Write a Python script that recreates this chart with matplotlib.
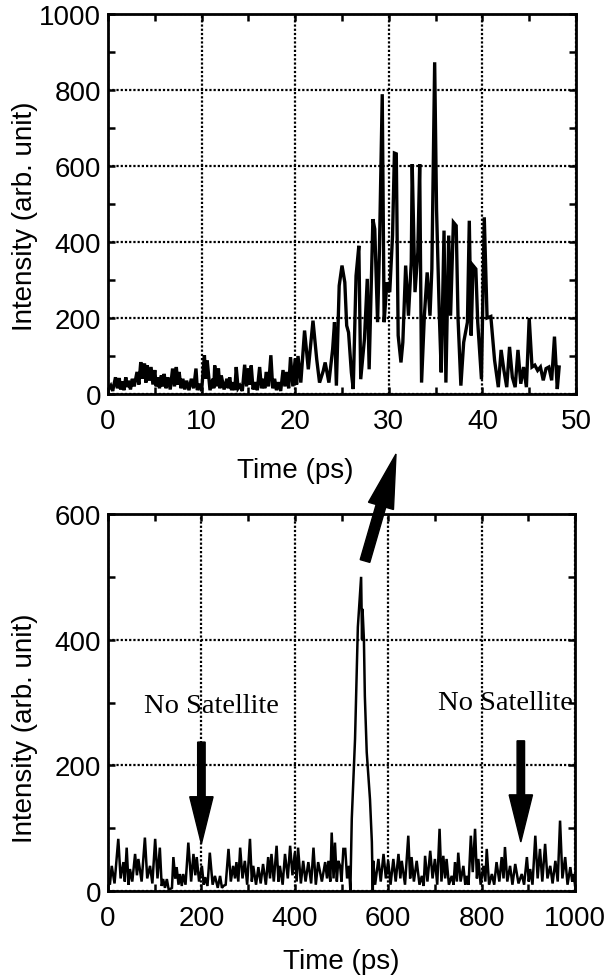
import matplotlib
matplotlib.use("Agg")
import matplotlib.pyplot as plt
from matplotlib.ticker import MultipleLocator
from matplotlib.patches import FancyArrow
from matplotlib.transforms import IdentityTransform

plt.rcParams['font.family'] = ['Liberation Sans', 'DejaVu Sans']

# ---------------- data: top panel (zoom, 0-50 ps) ----------------
top_time = [
    0.0, 0.3, 0.5, 0.8, 1.0, 1.2, 1.35, 1.5, 1.7, 1.9,
    2.05, 2.2, 2.4, 2.6, 2.8, 3.1, 3.3, 3.5, 3.7, 3.9,
    4.05, 4.2, 4.4, 4.6, 4.8, 5.0, 5.15, 5.3, 5.5, 5.7,
    5.85, 6.0, 6.2, 6.4, 6.65, 6.9, 7.1, 7.3, 7.45, 7.6,
    7.8, 8.0, 8.2, 8.4, 8.65, 8.9, 9.15, 9.4, 9.55, 9.7,
    10.0, 10.3, 10.45, 10.6, 10.9, 11.2, 11.3, 11.4, 11.6, 11.8,
    11.95, 12.1, 12.4, 12.7, 12.85, 13.0, 13.2, 13.4, 13.55, 13.7,
    13.9, 14.1, 14.35, 14.6, 14.8, 15.0, 15.15, 15.3, 15.5, 15.7,
    15.95, 16.2, 16.4, 16.6, 16.75, 16.9, 17.15, 17.4, 17.6, 17.8,
    18.0, 18.2, 18.45, 18.7, 18.9, 19.1, 19.3, 19.5, 19.75, 20.0,
    20.15, 20.3, 20.6, 21.0, 21.4, 21.9, 22.3, 22.6, 23.0, 23.2,
    23.6, 24.0, 24.2, 24.4, 24.7, 25.0, 25.3, 25.5, 25.7, 26.0,
    26.2, 26.5, 26.8, 27.0, 27.4, 27.7, 27.9, 28.3, 28.5, 28.8,
    29.0, 29.3, 29.5, 29.8, 30.1, 30.4, 30.6, 30.8, 31.0, 31.3,
    31.5, 31.8, 32.1, 32.4, 32.5, 32.8, 33.1, 33.3, 33.5, 33.8,
    34.1, 34.4, 34.6, 34.9, 35.1, 35.4, 35.6, 35.9, 36.1, 36.4,
    36.6, 36.9, 37.2, 37.4, 37.7, 38.0, 38.4, 38.6, 38.8, 39.0,
    39.3, 39.5, 39.9, 40.2, 40.5, 40.9, 41.3, 41.7, 42.0, 42.3,
    42.6, 42.9, 43.2, 43.5, 43.8, 44.1, 44.4, 44.7, 45.0, 45.3,
    45.6, 45.9, 46.2, 46.5, 46.8, 47.1, 47.4, 47.7, 48.0, 48.2,
]
top_intensity = [
    10, 22, 8, 44, 15, 42, 12, 33, 10, 44,
    18, 35, 12, 40, 20, 58, 25, 84, 40, 80,
    30, 75, 35, 71, 25, 63, 20, 44, 15, 49,
    20, 53, 15, 44, 12, 67, 20, 71, 25, 58,
    15, 40, 12, 35, 10, 40, 15, 67, 10, 27,
    8, 102, 40, 88, 10, 40, 15, 75, 20, 67,
    15, 49, 12, 40, 15, 44, 10, 31, 10, 71,
    15, 22, 8, 77, 20, 67, 25, 75, 12, 31,
    10, 71, 15, 40, 15, 58, 20, 102, 15, 40,
    10, 31, 8, 63, 20, 58, 15, 97, 20, 93,
    25, 100, 30, 167, 65, 193, 91, 30, 61, 83,
    30, 118, 189, 22, 285, 338, 294, 180, 162, 57,
    13, 311, 390, 39, 145, 303, 65, 460, 434, 189,
    382, 789, 189, 294, 268, 417, 634, 632, 154, 83,
    136, 338, 206, 347, 605, 268, 373, 605, 30, 206,
    320, 206, 329, 873, 487, 206, 57, 430, 30, 417,
    206, 452, 443, 197, 22, 136, 189, 456, 154, 338,
    329, 189, 39, 465, 200, 204, 89, 18, 116, 62,
    18, 124, 44, 18, 116, 27, 71, 18, 200, 71,
    76, 62, 71, 36, 67, 71, 36, 151, 13, 71,
]

# ---------------- data: bottom panel (0-1000 ps) ----------------
bot_time = [
    0, 4, 8, 14, 22, 27, 33, 36, 40, 44,
    47, 52, 58, 62, 65, 72, 79, 84, 90, 95,
    101, 106, 111, 115, 118, 122, 126, 130, 133, 137,
    140, 144, 147, 151, 154, 158, 161, 166, 172, 178,
    183, 187, 190, 195, 201, 205, 208, 213, 218, 224,
    229, 235, 240, 244, 247, 252, 258, 263, 268, 272,
    275, 279, 283, 288, 293, 298, 304, 308, 311, 317,
    322, 327, 332, 338, 343, 347, 350, 355, 361, 365,
    368, 374, 379, 385, 390, 395, 400, 404, 407, 413,
    418, 423, 429, 435, 440, 445, 450, 458, 465, 469,
    472, 476, 479, 483, 486, 490, 493, 497, 500, 504,
    508, 512, 516, 519, 522, 529, 535, 542, 544, 545,
    548, 550, 554, 561, 565, 567, 568, 572, 579, 584,
    590, 595, 600, 605, 611, 616, 622, 626, 629, 636,
    643, 647, 650, 655, 661, 667, 672, 676, 679, 684,
    690, 695, 700, 705, 710, 714, 718, 722, 725, 730,
    736, 740, 743, 747, 750, 755, 761, 765, 768, 772,
    777, 781, 786, 790, 793, 798, 804, 808, 811, 816,
    822, 827, 832, 838, 843, 847, 850, 855, 861, 866,
    872, 879, 886, 891, 897, 901, 904, 909, 915, 920,
    925, 930, 936, 941, 947, 952, 958, 963, 968, 973,
    979, 984, 990, 994, 997, 1000,
]
bot_intensity = [
    20, 10, 40, 12, 83, 20, 46, 15, 69, 10,
    35, 15, 59, 25, 51, 15, 85, 20, 40, 12,
    83, 20, 69, 8, 19, 5, 19, 2, 3, 5,
    54, 20, 38, 10, 27, 8, 27, 10, 77, 15,
    59, 25, 54, 15, 40, 10, 22, 8, 61, 10,
    24, 5, 24, 5, 8, 10, 67, 15, 40, 20,
    46, 15, 69, 20, 48, 10, 83, 15, 40, 10,
    38, 12, 43, 10, 54, 20, 59, 15, 72, 15,
    40, 10, 59, 20, 72, 25, 61, 15, 69, 12,
    48, 15, 46, 12, 69, 10, 46, 15, 46, 20,
    48, 15, 93, 20, 77, 15, 48, 40, 15, 67,
    67, 20, 40, 0, 115, 242, 420, 500, 400, 449,
    400, 310, 221, 146, 78, 0, 48, 10, 51, 15,
    59, 20, 48, 10, 51, 15, 59, 20, 48, 10,
    88, 20, 54, 15, 48, 10, 24, 8, 56, 15,
    64, 20, 51, 10, 99, 15, 56, 20, 51, 10,
    24, 10, 46, 15, 61, 15, 40, 10, 24, 10,
    88, 30, 99, 20, 51, 10, 40, 15, 67, 10,
    27, 10, 46, 15, 54, 20, 70, 15, 40, 10,
    43, 12, 27, 10, 54, 15, 35, 10, 88, 20,
    67, 15, 75, 20, 40, 12, 48, 15, 112, 20,
    54, 10, 38, 15, 27, 10,
]

top_xticks = [0, 10, 20, 30, 40, 50]
top_yticks = [0, 200, 400, 600, 800, 1000]
bot_xticks = [0, 200, 400, 600, 800, 1000]
bot_yticks = [0, 200, 400, 600]
annot_text = "No Satellite"
xlabel_text = "Time (ps)"
ylabel_text = "Intensity (arb. unit)"

# ---------------- figure ----------------
W, H = 606, 978
fig = plt.figure(figsize=(W / 100, H / 100), dpi=100)

def frac(l, t, r, b):
    return [l / W, 1 - b / H, (r - l) / W, (b - t) / H]

ax1 = fig.add_axes(frac(108, 15, 576, 395))
ax2 = fig.add_axes(frac(108, 515, 575, 892))

FS = 20
grid_kw = dict(color='black', linestyle=(0, (1, 0.9)), linewidth=1.6)

def style(ax, xt, yt, xminor, yminor):
    ax.set_xticks(xt)
    ax.set_yticks(yt)
    ax.xaxis.set_minor_locator(MultipleLocator(xminor))
    ax.yaxis.set_minor_locator(MultipleLocator(yminor))
    ax.set_xlim(xt[0], xt[-1])
    ax.set_ylim(yt[0], yt[-1])
    ax.tick_params(which='both', direction='in', top=True, right=True,
                   width=1.8, length=5, labelsize=FS, color='black')
    ax.tick_params(axis='x', pad=10)
    ax.tick_params(axis='y', pad=5)
    for s in ax.spines.values():
        s.set_linewidth(2.0)
        s.set_color('black')
    ax.grid(True, which='major', **grid_kw)
    ax.set_axisbelow(True)

style(ax1, top_xticks, top_yticks, 5, 100)
style(ax2, bot_xticks, bot_yticks, 100, 100)

ax1.plot(top_time, top_intensity, color='black', linewidth=2.4, zorder=3,
         solid_joinstyle='miter')
ax2.plot(bot_time, bot_intensity, color='black', linewidth=1.8, zorder=3,
         solid_joinstyle='miter')

# labels
ax1.set_xlabel(xlabel_text, fontsize=FS)
ax1.xaxis.label.set_va('center')
ax1.xaxis.set_label_coords(0.40, -0.20)
ax1.set_ylabel(ylabel_text, fontsize=FS)
ax1.yaxis.label.set_va('center')
ax1.yaxis.set_label_coords(-0.178, 0.47)

ax2.set_xlabel(xlabel_text, fontsize=FS)
ax2.xaxis.label.set_va('center')
ax2.xaxis.set_label_coords(0.50, -0.186)
ax2.set_ylabel(ylabel_text, fontsize=FS)
ax2.yaxis.label.set_va('center')
ax2.yaxis.set_label_coords(-0.178, 0.435)

# "No Satellite" annotations with down arrows
serif = ['Liberation Serif', 'DejaVu Serif']
ax2.text(221, 285, annot_text, ha='center', va='baseline', fontsize=20.5,
         family=serif, zorder=5)
ax2.text(850, 290, annot_text, ha='center', va='baseline', fontsize=20.5,
         family=serif, zorder=5)
for xa, ytop, ytip in [(200, 237, 75), (884, 239, 78)]:
    ax2.add_patch(FancyArrow(xa, ytop, 0, ytip - ytop, width=16,
                             head_width=50, head_length=75,
                             length_includes_head=True, color='black',
                             zorder=6))

# big arrow linking the peak to the zoomed panel (figure pixels)
tail = (365, H - 562)
tip = (396, H - 455)
big = FancyArrow(tail[0], tail[1], tip[0] - tail[0], tip[1] - tail[1],
                 width=10, head_width=26, head_length=54,
                 length_includes_head=True, color='black',
                 transform=IdentityTransform())
fig.add_artist(big)

fig.savefig('out.png', dpi=100)
